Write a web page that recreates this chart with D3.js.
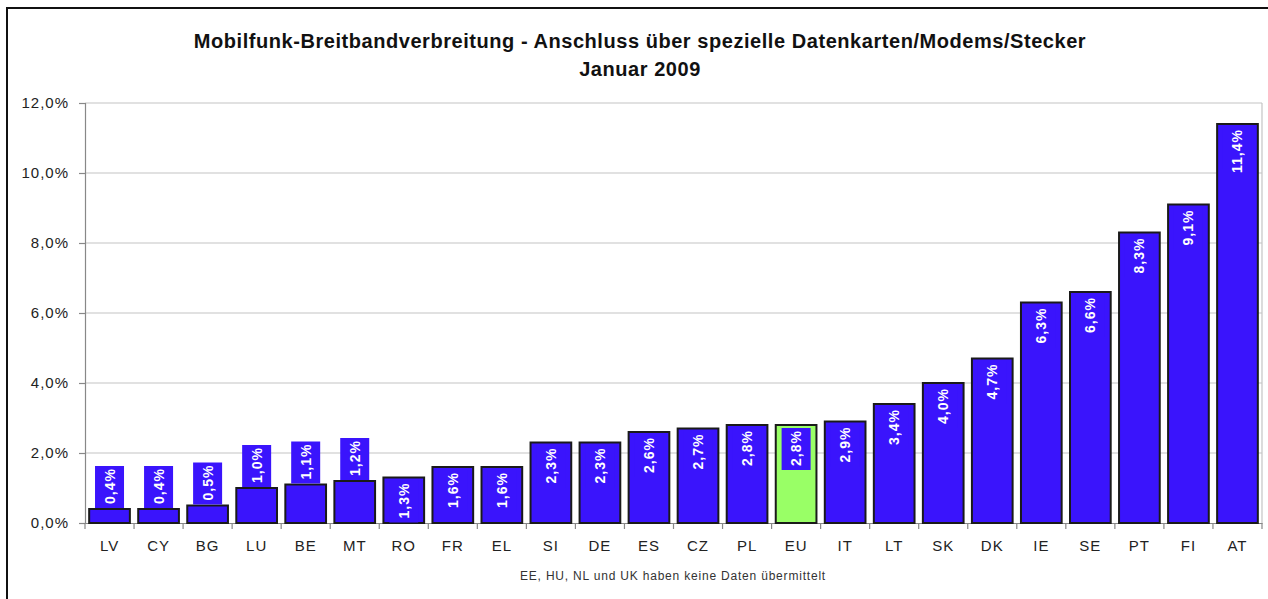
<!DOCTYPE html>
<html>
    <meta charset="utf-8">
    <head>
        <title>Mobilfunk-Breitbandverbreitung</title>
        <script src="https://d3js.org/d3.v7.min.js"></script>
        <style>
            body { margin: 0; background: #fff; }
            text { font-family: "Liberation Sans", Arial, sans-serif; }
        </style>
    </head>
    <body>
        <div id="my_dataviz"></div>
    </body>
</html>
<script>
    // data
    var countries = ["LV", "CY", "BG", "LU", "BE", "MT", "RO", "FR", "EL", "SI", "DE", "ES",
                     "CZ", "PL", "EU", "IT", "LT", "SK", "DK", "IE", "SE", "PT", "FI", "AT"];
    var values = [0.4, 0.4, 0.5, 1.0, 1.1, 1.2, 1.3, 1.6, 1.6, 2.3, 2.3, 2.6,
                  2.7, 2.8, 2.8, 2.9, 3.4, 4.0, 4.7, 6.3, 6.6, 8.3, 9.1, 11.4];
    var yTicks = [0, 2, 4, 6, 8, 10, 12];
    var highlight = ["EU"];

    var titleLines = ["Mobilfunk-Breitbandverbreitung - Anschluss über spezielle Datenkarten/Modems/Stecker",
                      "Januar 2009"];
    var footnote = "EE, HU, NL und UK haben keine Daten übermittelt";

    var records = countries.map(function(c, i) { return {name: c, value: values[i]}; });

    var W = 1268, H = 599;
    var margin = {top: 103, right: 6, bottom: 76, left: 85},
        width = W - margin.left - margin.right,
        height = H - margin.top - margin.bottom;

    var fmt = function(v) { return v.toFixed(1).replace(".", ",") + "%"; };

    var root = d3.select("#my_dataviz")
      .append("svg")
        .attr("width", W)
        .attr("height", H);

    // outer frame
    root.append("rect")
        .attr("x", 7).attr("y", 8)
        .attr("width", W + 10).attr("height", H + 10)
        .attr("fill", "none")
        .attr("stroke", "#111")
        .attr("stroke-width", 2);

    // title
    root.selectAll("text.title")
        .data(titleLines)
        .enter()
        .append("text")
            .attr("class", "title")
            .attr("x", 640)
            .attr("y", function(d, i) { return 48 + i * 28; })
            .attr("text-anchor", "middle")
            .attr("font-size", "20px")
            .attr("font-weight", "bold")
            .attr("letter-spacing", "0.55px")
            .attr("fill", "#111")
            .text(function(d) { return d; });

    var svg = root.append("g")
        .attr("transform", "translate(" + margin.left + "," + margin.top + ")");

    var x = d3.scaleBand()
        .range([0, width])
        .domain(countries)
        .paddingInner(0.17)
        .paddingOuter(0.085);

    var y = d3.scaleLinear()
        .domain([0, 12])
        .range([height, 0]);

    // gridlines
    svg.selectAll("line.grid")
        .data(yTicks.slice(1))
        .enter()
        .append("line")
            .attr("x1", 0).attr("x2", width)
            .attr("y1", function(d) { return y(d); })
            .attr("y2", function(d) { return y(d); })
            .attr("stroke", "#c4c4c4")
            .attr("stroke-width", 1.2);

    // right border of the plot area
    svg.append("line")
        .attr("x1", width).attr("x2", width)
        .attr("y1", 0).attr("y2", height)
        .attr("stroke", "#c4c4c4")
        .attr("stroke-width", 1.2);

    // Y axis
    var yAxis = svg.append("g")
        .call(d3.axisLeft(y)
            .tickValues(yTicks)
            .tickSize(6)
            .tickPadding(10)
            .tickFormat(fmt));
    yAxis.selectAll("text")
        .attr("font-size", "15px")
        .attr("letter-spacing", "1px")
        .attr("fill", "#222")
        .attr("font-family", null);
    yAxis.selectAll("line, path").attr("stroke", "#888").attr("stroke-width", 1.2);

    // X axis: tick marks at band edges
    var xAxis = svg.append("g")
        .attr("transform", "translate(0," + height + ")")
        .call(d3.axisBottom(x).tickSize(0).tickPadding(17));
    xAxis.select("path").attr("stroke", "#888").attr("stroke-width", 1.2);
    xAxis.selectAll("text")
        .attr("font-size", "15px")
        .attr("letter-spacing", "1px")
        .attr("fill", "#222")
        .attr("font-family", null);

    var step = x.step();
    svg.selectAll("line.xtick")
        .data(d3.range(countries.length + 1))
        .enter()
        .append("line")
            .attr("x1", function(i) { return i * step; })
            .attr("x2", function(i) { return i * step; })
            .attr("y1", height).attr("y2", height + 6)
            .attr("stroke", "#888")
            .attr("stroke-width", 1.2);

    // Bars
    svg.selectAll("rect.bar")
        .data(records)
        .enter()
        .append("rect")
            .attr("class", "bar")
            .attr("x", function(d) { return x(d.name); })
            .attr("width", x.bandwidth())
            .attr("y", function(d) { return y(d.value); })
            .attr("height", function(d) { return height - y(d.value); })
            .attr("fill", function(d) { return highlight.indexOf(d.name) >= 0 ? "#99ff66" : "#3a14fc"; })
            .attr("stroke", "#1a1a1a")
            .attr("stroke-width", 2);

    // value labels (blue box, pushed above the bar when the bar is too short)
    var boxH = 42, boxW = 29;
    var boxTop = function(d) {
        var top = y(d.value);
        return (height - top) < boxH + 1 ? top - boxH - 1 : top + 3;
    };

    var labels = svg.selectAll("g.label")
        .data(records)
        .enter()
        .append("g")
            .attr("class", "label");

    labels.append("rect")
        .attr("x", function(d) { return x(d.name) + x.bandwidth() / 2 - boxW / 2; })
        .attr("y", boxTop)
        .attr("width", boxW)
        .attr("height", boxH)
        .attr("fill", "#3a14fc");

    labels.append("text")
        .attr("transform", function(d) {
            return "translate(" + (x(d.name) + x.bandwidth() / 2 + 5) + "," + (boxTop(d) + 2) + ")rotate(-90)";
        })
        .attr("text-anchor", "end")
        .attr("font-size", "14px")
        .attr("font-weight", "bold")
        .attr("letter-spacing", "1px")
        .attr("fill", "#fff")
        .text(function(d) { return fmt(d.value); });

    // footnote
    root.append("text")
        .attr("x", 673)
        .attr("y", 580)
        .attr("text-anchor", "middle")
        .attr("font-size", "12px")
        .attr("letter-spacing", "0.8px")
        .attr("fill", "#333")
        .text(footnote);
</script>
